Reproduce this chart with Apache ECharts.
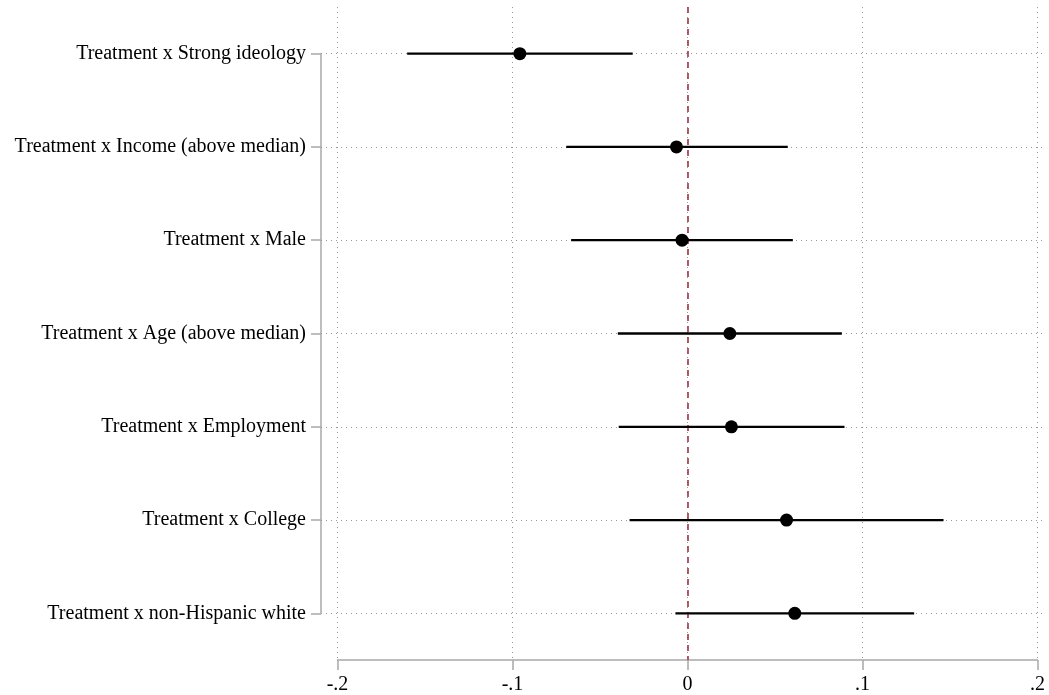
<!DOCTYPE html>
<html>
<head>
<meta charset="utf-8">
<script src="https://cdn.jsdelivr.net/npm/echarts@6/dist/echarts.min.js"></script>
<style>html,body{margin:0;padding:0;background:#fff}#c{width:1049px;height:695px}</style>
</head>
<body>
<div id="c"></div>
<script>
const categories = ['Treatment x Strong ideology','Treatment x Income (above median)','Treatment x Male','Treatment x Age (above median)','Treatment x Employment','Treatment x College','Treatment x non-Hispanic white'];
const estimates = [-0.0958, -0.0063, -0.0031, 0.0242, 0.0251, 0.0566, 0.0613];
const lower = [-0.1602, -0.0693, -0.0665, -0.0398, -0.0393, -0.0331, -0.0069];
const upper = [-0.0313, 0.0573, 0.0602, 0.0882, 0.0897, 0.1463, 0.1295];
const xTicks = ['-.2', '-.1', '0', '.1', '.2'];

const font = 'Liberation Serif';
const gray = '#a8a8a8';
const dotGray = '#999999';

const chart = echarts.init(document.getElementById('c'), null, {renderer: 'canvas'});
const tickMap = {};
[-0.2, -0.1, 0, 0.1, 0.2].forEach((v, i) => { tickMap[v.toFixed(1)] = xTicks[i]; });

chart.setOption({
  animation: false,
  backgroundColor: '#fff',
  grid: [
    {left: 337.5, right: 11.5, top: 7, bottom: 35},
    {left: 321, right: 3, top: 7, bottom: 35}
  ],
  xAxis: [
    {
      type: 'value', gridIndex: 0, min: -0.2, max: 0.2, interval: 0.1,
      axisLine: {show: true, lineStyle: {color: gray, width: 1.5}},
      axisTick: {show: true, length: 10, lineStyle: {color: gray, width: 1.5}},
      axisLabel: {color: '#000', fontFamily: font, fontSize: 20, margin: 15,
        formatter: v => tickMap[(Math.round(v * 10) / 10).toFixed(1)] || ''},
      splitLine: {show: true, lineStyle: {color: dotGray, type: [1, 4], width: 1}}
    },
    {type: 'value', gridIndex: 1, min: 0, max: 1, show: false}
  ],
  yAxis: [
    {type: 'category', gridIndex: 0, data: categories, inverse: true, boundaryGap: true, show: false},
    {
      type: 'category', gridIndex: 1, data: categories, inverse: true, boundaryGap: true,
      axisLine: {show: false},
      axisTick: {show: true, alignWithLabel: true, length: 10, lineStyle: {color: gray, width: 1.5}},
      axisLabel: {color: '#000', fontFamily: font, fontSize: 20, margin: 15},
      splitLine: {show: false}
    }
  ],
  series: [
    {
      type: 'line', xAxisIndex: 1, yAxisIndex: 1,
      data: [[0, 0], [0, categories.length - 1]],
      symbol: 'none', clip: false, silent: true,
      lineStyle: {color: gray, width: 1.5},
      markLine: {
        silent: true, symbol: 'none', label: {show: false},
        lineStyle: {color: dotGray, type: [1, 4], width: 1},
        data: categories.map(c => ({yAxis: c}))
      },
      z: 1
    },
    {
      type: 'custom', xAxisIndex: 0, yAxisIndex: 0,
      data: categories.map((c, i) => [lower[i], upper[i], i]),
      renderItem: function (params, api) {
        const a = api.coord([api.value(0), api.value(2)]);
        const b = api.coord([api.value(1), api.value(2)]);
        return {type: 'line', shape: {x1: a[0], y1: a[1], x2: b[0], y2: b[1]},
          style: {stroke: '#000', lineWidth: 2.3}};
      },
      z: 5
    },
    {
      type: 'line', xAxisIndex: 0, yAxisIndex: 0, data: [],
      markLine: {
        silent: true, symbol: 'none', label: {show: false},
        lineStyle: {color: '#9c3544', type: [6, 5], width: 1.6},
        data: [{xAxis: 0}]
      },
      z: 4
    },
    {
      type: 'scatter', xAxisIndex: 0, yAxisIndex: 0,
      data: categories.map((c, i) => [estimates[i], i]),
      symbol: 'circle', symbolSize: 13,
      itemStyle: {color: '#000', opacity: 1},
      z: 6
    }
  ]
});
</script>
</body>
</html>
